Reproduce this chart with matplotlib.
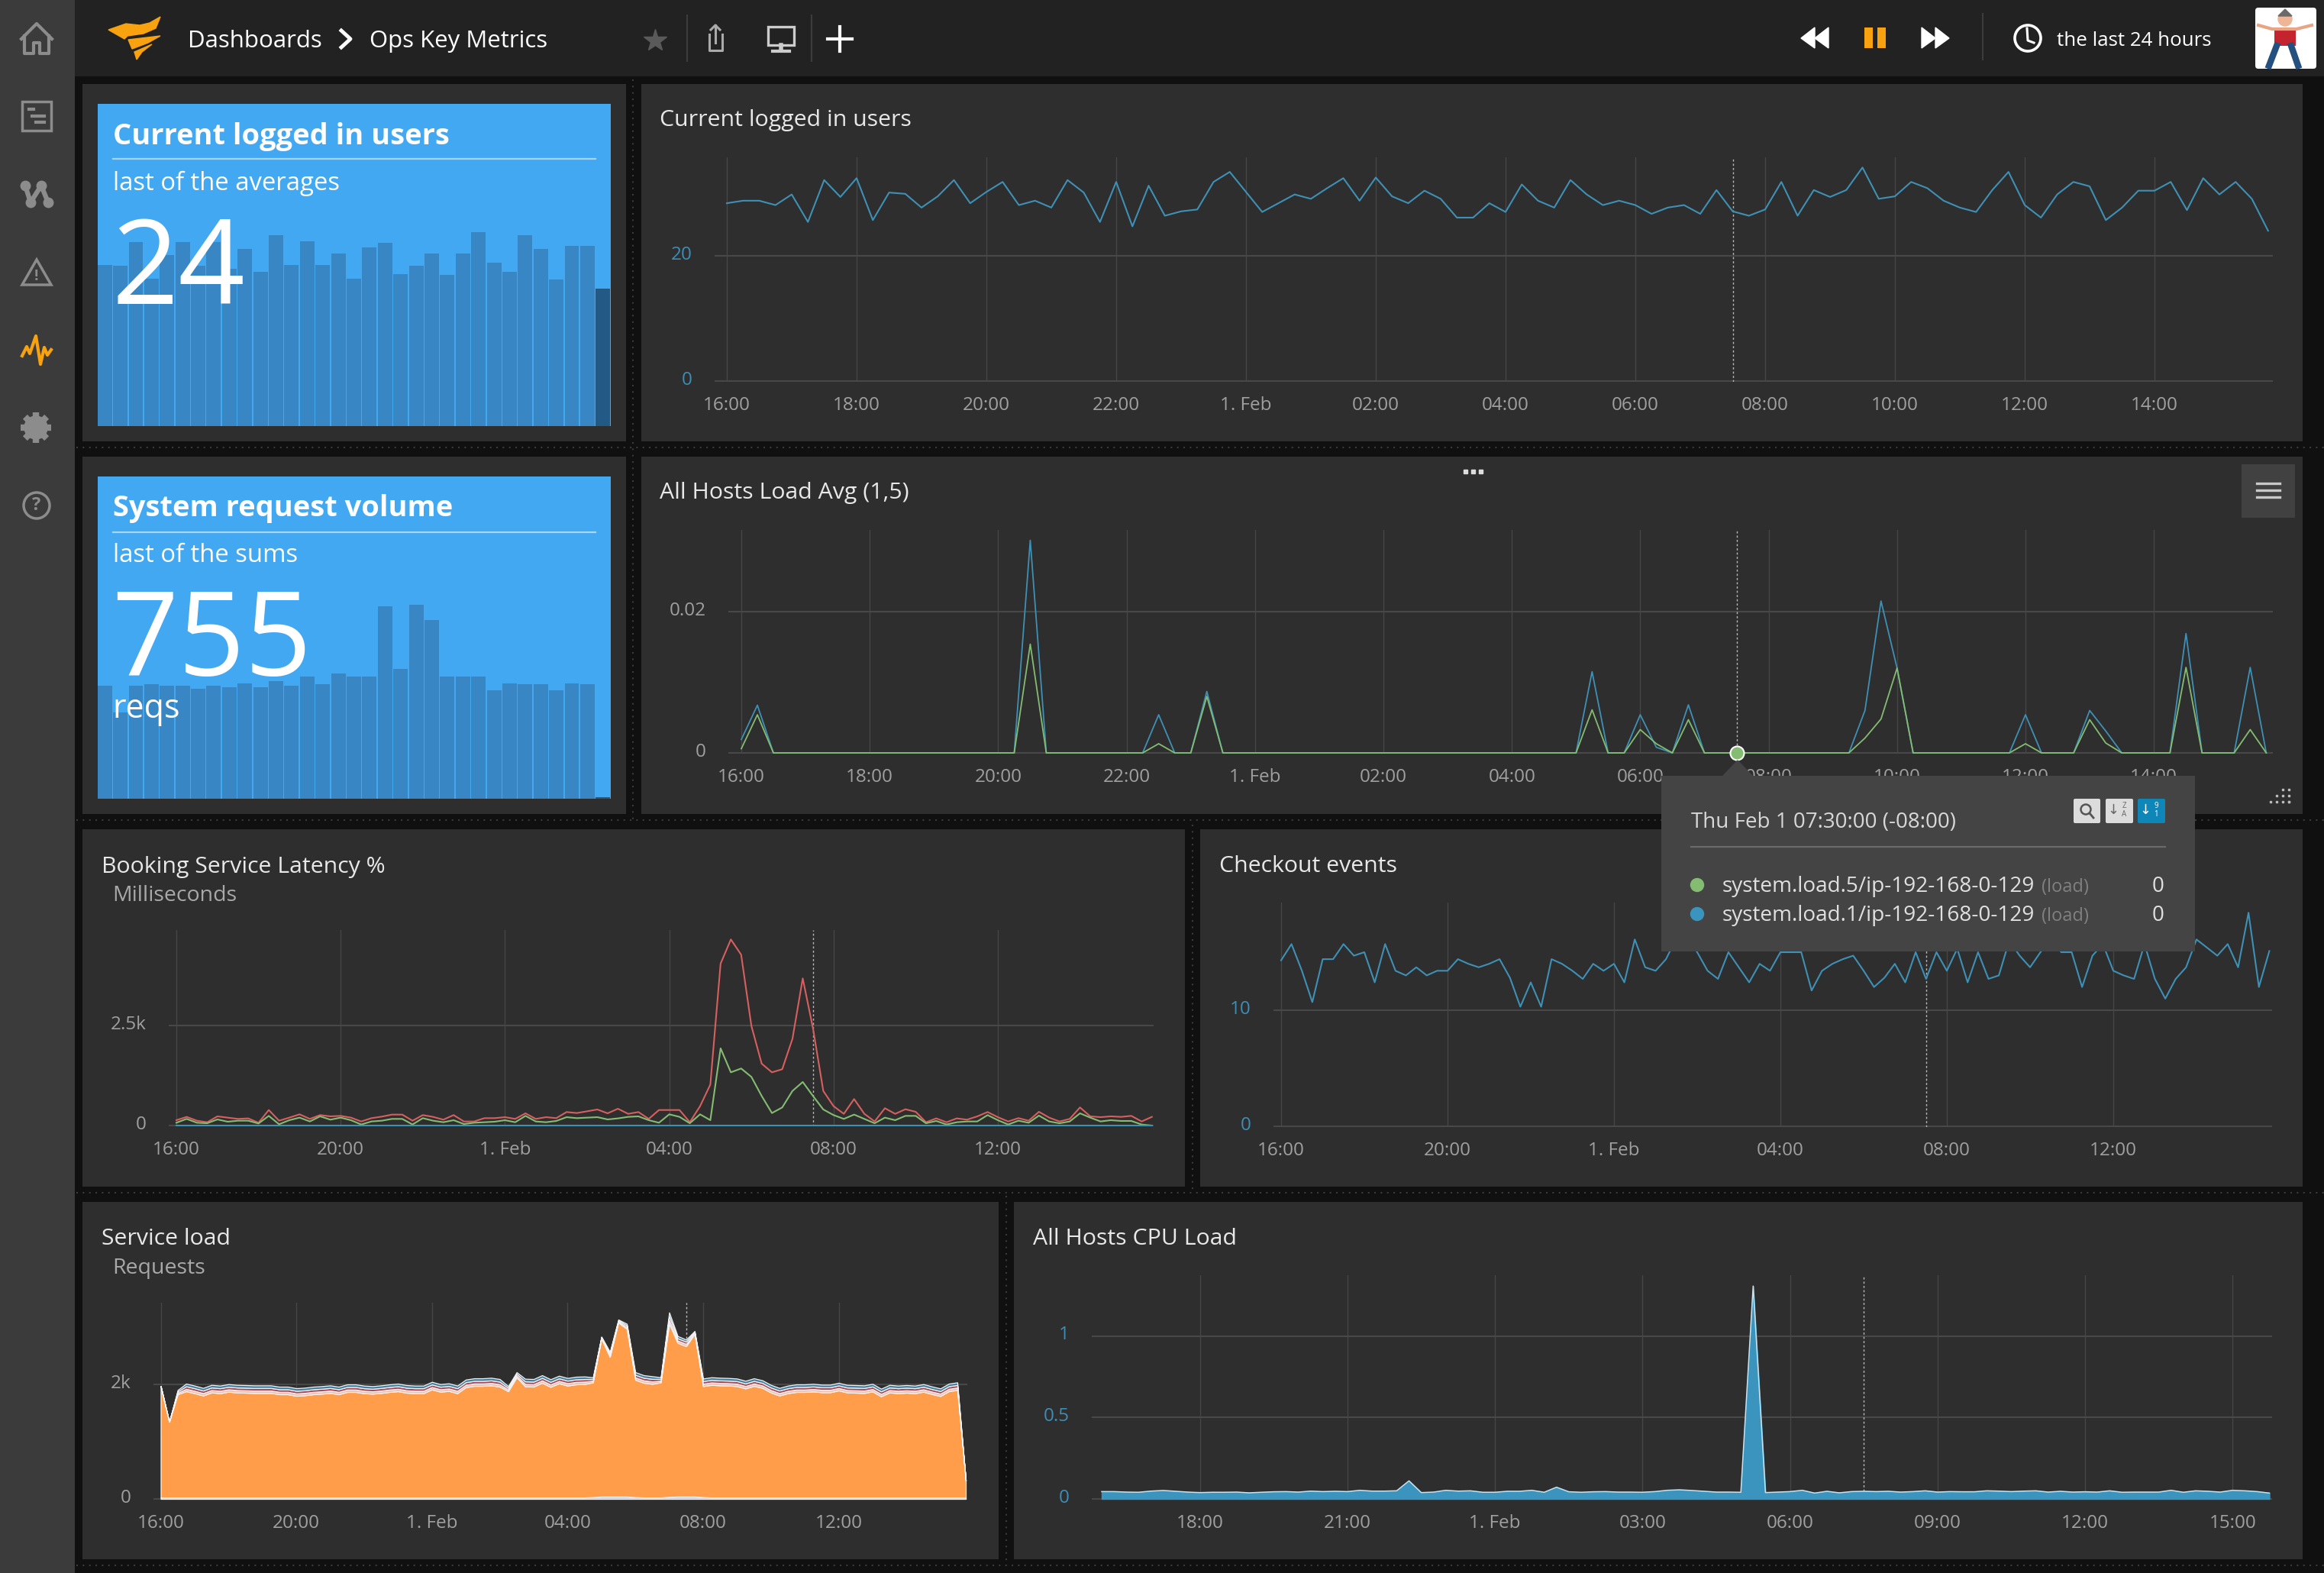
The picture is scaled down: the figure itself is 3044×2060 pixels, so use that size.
import numpy as np
import matplotlib
matplotlib.use("Agg")
import matplotlib.pyplot as plt
from matplotlib.patches import Rectangle, Polygon, Circle, FancyBboxPatch
from matplotlib.transforms import ScaledTranslation

plt.rcParams['font.family'] = ['Open Sans', 'DejaVu Sans']

W, H = 3044, 2060

# every series is sampled each 15 minutes, hours counted from 16:00
hours = np.arange(96) * 0.25

users_bars = [28.2, 28.0, 32.1, 25.7, 29.9, 32.1, 28.0, 32.1, 27.5, 30.9, 27.0, 33.4, 28.2, 32.3, 28.2, 30.2, 25.8,
              31.2, 32.0, 26.6, 28.0, 30.2, 26.4, 30.2, 33.9, 28.5, 27.0, 33.4, 30.9, 25.6, 31.5, 31.5, 24]
reqs_bars = [55700, 42500, 56000, 56600, 56000, 56000, 54500, 56000, 55100, 57000, 55100, 58100, 56000, 60400, 56600,
             61900, 60400, 60400, 95100, 64200, 95900, 88300, 60400, 60400, 60400, 53600, 57000, 56600, 56600, 53600,
             57000, 56600, 755]

users_line = [28.4, 28.8, 28.8, 28.1, 29.8, 25.4, 32.1, 29.4, 32.4, 25.7, 30.1, 29.9, 27.7, 29.5, 32.1, 28.4,
              30.2, 31.8, 28.1, 28.8, 27.7, 32.1, 30.1, 25.4, 31.8, 24.7, 31.2, 26.4, 27.1, 27.4, 31.8, 33.4,
              30.2, 27.0, 28.4, 29.8, 29.1, 30.8, 32.4, 28.8, 32.5, 29.5, 28.4, 30.4, 29.1, 26.1, 26.1, 28.4,
              27.0, 31.4, 28.8, 27.7, 32.1, 29.8, 28.1, 28.8, 28.1, 26.7, 27.7, 28.1, 26.7, 30.5, 27.1, 26.4,
              27.4, 31.8, 26.4, 30.5, 29.4, 30.5, 34.1, 29.1, 29.5, 31.8, 30.8, 28.8, 27.7, 27.0, 30.5, 33.4,
              28.1, 26.1, 29.8, 31.8, 31.1, 25.7, 27.7, 30.4, 30.4, 31.8, 27.3, 32.4, 29.8, 31.8, 29.1, 24.0]

load1 = [.0019, .00675, 0, 0, 0, 0, 0, 0, 0, 0, 0, 0, 0, 0, 0, 0, 0, 0, .0301, 0, 0, 0, 0, 0, 0, 0, .0054, 0, 0, .0087,
         0, 0, 0, 0, 0, 0, 0, 0, 0, 0, 0, 0, 0, 0, 0, 0, 0, 0, 0, 0, 0, 0, 0, .0115, 0, 0, .0054, .0008, 0, .0068,
         0, 0, 0, 0, 0, 0, 0, 0, 0, 0, .0060, .0215, .0120, 0, 0, 0, 0, 0, 0, 0, .0054, 0, 0, 0, .0060, .0031,
         0, 0, 0, 0, .0169, 0, 0, 0, .0121, 0]
load5 = [.0006, .0054, 0, 0, 0, 0, 0, 0, 0, 0, 0, 0, 0, 0, 0, 0, 0, 0, .0154, 0, 0, 0, 0, 0, 0, 0, .0013, 0, 0, .0080,
         0, 0, 0, 0, 0, 0, 0, 0, 0, 0, 0, 0, 0, 0, 0, 0, 0, 0, 0, 0, 0, 0, 0, .0061, 0, 0, .0033, .0013, 0, .0047,
         0, 0, 0, 0, 0, 0, 0, 0, 0, 0, .0021, .0048, .0120, 0, 0, 0, 0, 0, 0, 0, .0013, 0, 0, 0, .0047, .0014,
         0, 0, 0, 0, .0121, 0, 0, 0, .0033, 0]

latency_p99 = [134, 217, 121, 83, 230, 198, 166, 179, 70, 389, 121, 198, 281, 166, 262, 230, 242, 198, 102, 185, 223,
               274, 274, 121, 262, 217, 147, 262, 102, 102, 185, 185, 210, 166, 306, 166, 210, 185, 338, 313, 357, 402,
               306, 421, 293, 338, 166, 389, 389, 389, 83, 485, 1027, 4056, 4662, 4280, 2494, 1550, 1333, 1410, 2175,
               3686, 2430, 867, 485, 293, 663, 293, 102, 434, 293, 408, 344, 83, 179, 83, 179, 147, 230, 338, 210, 102,
               185, 121, 344, 198, 102, 166, 453, 230, 210, 230, 217, 242, 102, 217]
latency_p50 = [70, 166, 70, 57, 153, 96, 121, 121, 51, 242, 32, 134, 198, 102, 230, 147, 198, 134, 26, 102, 121, 166,
               166, 26, 185, 121, 83, 134, 38, 70, 83, 96, 134, 83, 242, 102, 83, 115, 210, 185, 198, 210, 153, 179,
               217, 230, 134, 70, 281, 217, 57, 281, 134, 1933, 1333, 1429, 1218, 740, 313, 453, 867, 1091, 740, 402,
               262, 166, 274, 166, 57, 198, 134, 242, 242, 57, 115, 26, 83, 102, 102, 262, 134, 26, 121, 70, 249, 102,
               57, 102, 306, 198, 102, 134, 115, 115, 26, 0]
latency_min = [6, 6, 6, 6, 6, 6, 6, 6, 6, 6, 6, 6, 6, 6, 6, 6, 6, 6, 6, 6, 6, 6, 6, 6, 6, 6, 6, 6, 6, 6, 6, 6,
               6, 6, 6, 6, 6, 6, 6, 6, 6, 6, 6, 6, 6, 6, 6, 6, 6, 6, 6, 6, 6, 6, 6, 6, 6, 6, 6, 6, 6, 6, 6, 6,
               6, 6, 6, 6, 6, 6, 6, 6, 6, 6, 6, 6, 6, 6, 6, 6, 6, 6, 6, 6, 6, 6, 6, 6, 6, 6, 6, 6, 6, 6, 6, 6]

checkout = [14.3, 15.7, 13.4, 10.7, 14.4, 14.4, 15.7, 14.7, 15.0, 12.4, 15.7, 13.4, 13.0, 13.7, 13.0, 13.4, 13.4, 14.4,
            14.0, 13.7, 14.0, 14.4, 12.8, 10.3, 12.4, 10.3, 14.4, 14.0, 13.4, 12.7, 14.0, 13.4, 14.0, 12.4, 16.1, 13.7,
            13.4, 14.4, 16.2, 16.2, 15.0, 13.4, 12.7, 15.0, 13.7, 12.4, 14.0, 13.4, 15.0, 15.0, 15.0, 11.7, 13.4, 14.0,
            14.4, 14.7, 13.4, 12.0, 12.8, 14.0, 12.4, 15.0, 12.7, 15.0, 13.4, 15.3, 12.4, 15.0, 12.7, 13.0, 16.0, 14.7,
            13.7, 15.0, 16.2, 15.0, 15.0, 12.0, 14.7, 15.7, 13.4, 13.0, 12.7, 15.7, 12.7, 11.0, 12.7, 13.7, 16.1, 15.4,
            14.7, 15.7, 13.7, 18.4, 12.0, 15.1]

service_total = [1969, 1347, 1902, 2013, 1978, 1938, 1991, 1978, 2004, 1991, 1987, 1982, 1982, 1982, 1960, 1960, 1933,
                 1942, 1960, 1969, 1982, 1960, 2000, 2000, 1978, 1969, 1982, 2000, 2013, 1987, 1978, 1978, 2044, 2004,
                 2018, 1978, 2084, 2106, 2106, 2115, 2093, 1969, 2213, 2098, 2093, 2160, 2089, 2151, 2111, 2133, 2138,
                 2124, 2835, 2569, 3133, 3058, 2213, 2160, 2142, 2124, 3257, 2844, 2782, 2933, 2102, 2124, 2115, 2111,
                 2102, 2062, 2106, 2071, 1991, 1938, 1978, 2000, 2000, 2009, 1995, 1995, 2027, 1991, 1987, 1982, 2009,
                 1924, 1991, 1978, 1987, 1978, 2004, 1964, 1929, 2013, 2035, 324]
service_a = [0, 0, 25, 42, 42, 42, 42, 42, 42, 42, 42, 42, 42, 42, 42, 42, 42, 42, 42, 42, 42, 42, 42, 42, 42, 42, 42,
             42, 42, 42, 42, 42, 42, 42, 42, 42, 42, 42, 42, 42, 42, 30, 30, 42, 42, 42, 42, 42, 42, 42, 42, 30, 12,
             30, 18, 30, 42, 42, 42, 30, 65, 40, 40, 18, 42, 42, 42, 42, 42, 42, 42, 42, 42, 42, 42, 42, 42, 42, 42,
             42, 42, 42, 42, 42, 42, 42, 42, 42, 42, 42, 42, 42, 42, 42, 42, 0]
service_b = [0, 0, 25, 45, 45, 45, 45, 45, 45, 45, 45, 45, 45, 45, 45, 45, 45, 45, 45, 45, 45, 45, 45, 45, 45, 45, 45,
             45, 45, 45, 45, 45, 45, 45, 45, 45, 45, 45, 45, 45, 45, 30, 30, 45, 45, 45, 45, 45, 45, 45, 45, 30, 12,
             30, 18, 30, 45, 45, 45, 30, 70, 40, 40, 18, 45, 45, 45, 45, 45, 45, 45, 45, 45, 45, 45, 45, 45, 45, 45,
             45, 45, 45, 45, 45, 45, 45, 45, 45, 45, 45, 45, 45, 45, 45, 45, 0]
service_c = [0, 0, 25, 46, 46, 46, 46, 46, 46, 46, 46, 46, 46, 46, 46, 46, 46, 46, 46, 46, 46, 46, 46, 46, 46, 46, 46,
             46, 46, 46, 46, 46, 46, 46, 46, 46, 46, 46, 46, 46, 46, 30, 30, 46, 46, 46, 46, 46, 46, 46, 46, 30, 11,
             29, 17, 29, 46, 46, 46, 30, 65, 40, 35, 17, 46, 46, 46, 46, 46, 46, 46, 46, 46, 46, 46, 46, 46, 46, 46,
             46, 46, 46, 46, 46, 46, 46, 46, 46, 46, 46, 46, 46, 46, 46, 46, 0]
service_low = [25, 25, 25, 25, 25, 25, 25, 25, 25, 25, 25, 25, 25, 25, 25, 25, 25, 25, 25, 25, 25, 25, 25, 25, 25, 25,
               25, 25, 25, 25, 25, 25, 25, 25, 25, 25, 25, 25, 25, 25, 25, 25, 25, 25, 25, 25, 25, 25, 25, 25, 25, 30,
               40, 40, 40, 40, 30, 25, 25, 25, 35, 40, 40, 40, 30, 25, 25, 25, 25, 25, 25, 25, 25, 25, 25, 25, 25, 25,
               25, 25, 25, 25, 25, 25, 25, 25, 25, 25, 25, 25, 25, 25, 25, 25, 25, 25]

cpu_load = [.045, .045, .042, .041, .048, .052, .047, .042, .039, .041, .041, .042, .0375, .041, .044, .045, .042,
            .048, .045, .047, .045, .053, .048, .048, .05, .111, .039, .042, .053, .048, .05, .041, .041, .047, .047,
            .053, .041, .072, .044, .041, .044, .045, .042, .042, .041, .045, .053, .056, .052, .047, .042, .042, .041,
            1.306, .039, .042, .045, .053, .036, .047, .0375, .045, .047, .045, .047, .042, .045, .05, .042, .045,
            .044, .044, .05, .048, .045, .048, .05, .042, .047, .042, .044, .042, .05, .041, .042, .042, .042, .053,
            .041, .05, .047, .042, .053, .05, .045, .036]

ticks_2h = [0, 2, 4, 6, 8, 10, 12, 14, 16, 18, 20, 22]
labels_2h = ['16:00', '18:00', '20:00', '22:00', '1. Feb', '02:00', '04:00', '06:00', '08:00', '10:00', '12:00', '14:00']
ticks_4h = [0, 4, 8, 12, 16, 20]
labels_4h = ['16:00', '20:00', '1. Feb', '04:00', '08:00', '12:00']
ticks_3h = [2, 5, 8, 11, 14, 17, 20, 23]
labels_3h = ['18:00', '21:00', '1. Feb', '03:00', '06:00', '09:00', '12:00', '15:00']

BG = '#101010'
PANEL = '#2e2e2e'
TOPBAR = '#222222'
SIDEBAR = '#3b3b3b'
STAT = '#43a8f2'
STAT_BAR = '#3886c3'
STAT_LAST = '#235a85'
GRID = '#484848'
VGRID = '#464646'
LINE_BLUE = '#3f90b5'
GREEN = '#84bc72'
RED = '#d6605f'
ORANGE = '#ff9d4b'
ORANGE_UI = '#f7a20e'
TICK = '#a0a0a0'
TICK_BLUE = '#3d8db5'
ICON = '#8c8c8c'
HOVER = 15.5

fig = plt.figure(figsize=(W / 100, H / 100), dpi=100, facecolor=BG)


def px_axes(left, top, right, bottom, zorder=1):
    return fig.add_axes([left / W, 1 - bottom / H, (right - left) / W, (bottom - top) / H], zorder=zorder)


ui = px_axes(0, 0, W, H, zorder=0)
ui.set_xlim(0, W)
ui.set_ylim(H, 0)
ui.axis('off')

top = px_axes(0, 0, W, H, zorder=10)
top.set_xlim(0, W)
top.set_ylim(H, 0)
top.axis('off')
top.patch.set_alpha(0)


def box(ax, x0, y0, x1, y1, color, **kw):
    ax.add_patch(Rectangle((x0, y0), x1 - x0, y1 - y0, facecolor=color, edgecolor='none', **kw))


def chart(left, right, ytop, y0, x0, per_hour, per_unit, xticks, xlabels, yticks, ylabels, ycolor=TICK):
    ax = px_axes(left, ytop, right, y0 + 1, zorder=2)
    ax.patch.set_alpha(0)
    ax.set_xlim((left - x0) / per_hour, (right - x0) / per_hour)
    ax.set_ylim(-1 / per_unit, (y0 - ytop) / per_unit)
    for s in ax.spines.values():
        s.set_visible(False)
    ax.set_xticks(xticks)
    ax.set_xticklabels(xlabels, fontsize=17.5, color=TICK)
    ax.set_yticks(yticks)
    ax.set_yticklabels(ylabels, fontsize=17.5, color=ycolor)
    ax.tick_params(axis='both', length=0)
    ax.tick_params(axis='x', pad=14)
    ax.tick_params(axis='y', pad=21)
    nudge = ScaledTranslation(0, 3 / 72, fig.dpi_scale_trans)
    for lab in ax.get_yticklabels():
        lab.set_transform(lab.get_transform() + nudge)
    ax.grid(axis='y', color=GRID, lw=1.5)
    ax.grid(axis='x', color=VGRID, lw=1.0)
    ax.set_axisbelow(True)
    ax.axvline(HOVER, color='#b8b8b8', lw=1.0, ls=(0, (2, 2)), zorder=1.5)
    return ax


def stat_bars(left, ytop, right, bottom, values, ymax):
    ax = px_axes(left, ytop, right, bottom, zorder=2)
    ax.patch.set_alpha(0)
    ax.axis('off')
    ax.set_xlim(-0.5, len(values) - 0.5)
    ax.set_ylim(0, ymax)
    colors = [STAT_BAR] * (len(values) - 1) + [STAT_LAST]
    ax.bar(range(len(values)), values, width=0.93, color=colors)
    return ax


# page background and panels
box(ui, 0, 0, 98, H, SIDEBAR)
box(ui, 98, 0, W, 100, TOPBAR)
panels = [(108, 110, 820, 578), (840, 110, 3016, 578),
          (108, 598, 820, 1066), (840, 598, 3016, 1066),
          (108, 1086, 1552, 1554), (1572, 1086, 3016, 1554),
          (108, 1574, 1308, 2042), (1328, 1574, 3016, 2042)]
for p in panels:
    box(ui, p[0], p[1], p[2], p[3], PANEL)
box(ui, 128, 136, 800, 558, STAT)
box(ui, 128, 624, 800, 1046, STAT)
for y in [586, 1074, 1562, 2050]:
    ui.plot([100, W], [y, y], color='#3a3a3a', lw=1.5, ls=(0, (1, 3)))
ui.plot([829, 829], [104, 1074], color='#3a3a3a', lw=1.5, ls=(0, (1, 3)))
ui.plot([1562, 1562], [1080, 1560], color='#3a3a3a', lw=1.5, ls=(0, (1, 3)))
ui.plot([1318, 1318], [1566, 2050], color='#3a3a3a', lw=1.5, ls=(0, (1, 3)))

# sidebar icons
top.plot([28, 48, 68], [51, 31, 51], color=ICON, lw=3)
top.plot([32, 32, 44, 44, 52, 52, 64, 64], [47, 70, 70, 56, 56, 70, 70, 47], color=ICON, lw=3)
top.add_patch(Rectangle((29, 133), 38, 38, fill=False, edgecolor=ICON, lw=2.5))
top.plot([38, 44], [143, 143], color=ICON, lw=3)
top.plot([42, 58], [152, 152], color=ICON, lw=3)
top.plot([47, 58], [160, 160], color=ICON, lw=3)
top.plot([33, 40, 54, 63], [243, 265, 243, 265], color=ICON, lw=4.5, marker='o', ms=9)
top.add_patch(Polygon([(48, 340), (29, 373), (67, 373)], fill=False, edgecolor=ICON, lw=2.5))
top.text(48, 362, '!', color=ICON, fontsize=14, ha='center', va='center', fontweight='bold')
top.plot([29, 35, 39, 47, 53, 58, 62, 67], [466, 454, 463, 440, 477, 455, 465, 458], color=ORANGE_UI, lw=3)
for a in np.deg2rad([0, 45, 90, 135]):
    top.plot([47 - 20 * np.cos(a), 47 + 20 * np.cos(a)], [560 - 20 * np.sin(a), 560 + 20 * np.sin(a)],
             color=ICON, lw=6, solid_capstyle='butt')
top.add_patch(Circle((47, 560), 15, color=ICON))
top.add_patch(Circle((47, 560), 7, color=SIDEBAR))
top.add_patch(Circle((48, 662), 17, fill=False, edgecolor=ICON, lw=2.5))
top.text(48, 662, '?', color=ICON, fontsize=17, ha='center', va='center', fontweight='bold')

# top bar
top.add_patch(Polygon([(142, 39), (165, 31), (183, 33), (196, 30), (210, 22), (204, 37), (188, 44), (167, 47), (163, 51)],
                      color=ORANGE_UI))
top.add_patch(Polygon([(168, 52), (210, 47), (194, 56), (173, 64)], color=ORANGE_UI))
top.add_patch(Polygon([(176, 68), (199, 58), (186, 68), (179, 78)], color=ORANGE_UI))
top.text(246, 54, 'Dashboards', color='white', fontsize=22.5, va='center')
top.plot([447, 459, 447], [40, 51, 62], color='white', lw=3.5)
top.text(484, 54, 'Ops Key Metrics', color='white', fontsize=22.4, va='center')
top.plot([858], [53], marker='*', color='#5a5a5a', ms=22)
top.plot([900, 900], [20, 80], color='#3c3c3c', lw=1.5)
top.plot([1063, 1063], [20, 80], color='#3c3c3c', lw=1.5)
top.plot([2597, 2597], [18, 78], color='#3c3c3c', lw=1.5)
top.plot([929, 929, 946, 946], [45, 66, 66, 45], color='#aaaaaa', lw=2.2)
top.plot([937, 937], [33, 56], color='#aaaaaa', lw=2.2)
top.plot([931, 937, 943], [39, 33, 39], color='#aaaaaa', lw=2.2)
top.add_patch(Rectangle((1006, 35), 34, 24, fill=False, edgecolor='#cccccc', lw=2.4))
top.plot([1023, 1023], [59, 66], color='#cccccc', lw=4)
top.plot([1012, 1034], [67, 67], color='#cccccc', lw=3)
top.plot([1100, 1100], [35, 67], color='white', lw=3)
top.plot([1084, 1116], [51, 51], color='white', lw=3)
top.add_patch(Polygon([(2377, 36), (2377, 63), (2359, 50)], color='white'))
top.add_patch(Polygon([(2395, 36), (2395, 63), (2377, 50)], color='white'))
box(top, 2442, 36, 2453, 63, ORANGE_UI)
box(top, 2459, 36, 2470, 63, ORANGE_UI)
top.add_patch(Polygon([(2517, 36), (2517, 63), (2535, 50)], color='white'))
top.add_patch(Polygon([(2535, 36), (2535, 63), (2553, 50)], color='white'))
top.add_patch(Circle((2656, 50), 17, fill=False, edgecolor='white', lw=2.6))
top.plot([2655, 2656, 2664], [37, 53, 56], color='white', lw=2.2)
top.text(2694, 54, 'the last 24 hours', color='white', fontsize=18.6, va='center')

# avatar
top.add_patch(FancyBboxPatch((2958, 14), 72, 72, boxstyle='round,pad=4', facecolor='white', edgecolor='none'))
top.plot([2958, 2976, 3008, 3028], [33, 38, 38, 33], color='#e9a583', lw=3)
top.plot([2982, 2972], [60, 86], color='#24507f', lw=6)
top.plot([3001, 3010], [60, 86], color='#24507f', lw=6)
box(top, 2979, 36, 3007, 60, '#c4242e')
top.add_patch(Circle((2993, 25), 9, color='#eeb596'))
top.add_patch(Polygon([(2984, 21), (2993, 12), (3002, 21)], color='#6a6a6a'))

# single stat panels
stat_bars(127, 136, 800, 558, users_bars, 56.3)
stat_bars(127, 624, 800, 1046, reqs_bars, 159300)
for y_title, y_line, y_sub, name, sub in [(179, 208, 240, 'Current logged in users', 'last of the averages'),
                                          (666, 697, 728, 'System request volume', 'last of the sums')]:
    top.text(148, y_title, name, color='white', fontsize=27.4, fontweight='bold', va='center')
    top.plot([148, 780], [y_line, y_line], color='#a8d6f8', lw=1.6)
    top.text(148, y_sub, sub, color='white', fontsize=23.7, va='center')
top.text(146, 358, '24', color='white', fontsize=110, va='center')
top.text(146, 845, '755', color='white', fontsize=110, va='center')
top.text(147, 929, 'reqs', color='white', fontsize=31, va='center')

# Current logged in users
ax = chart(936, 2977, 206, 499, 952, 85.0, 8.2, ticks_2h, labels_2h, [0, 20], ['0', '20'], TICK_BLUE)
ax.plot(hours, users_line, color=LINE_BLUE, lw=1.5)

# All Hosts Load Avg
ax = chart(954, 2977, 694, 986, 971, 84.1, 9250, ticks_2h, labels_2h, [0, 0.02], ['0', '0.02'])
ax.plot(hours, load1, color=LINE_BLUE, lw=1.3)
ax.plot(hours, load5, color=GREEN, lw=1.3)
ax.plot([HOVER], [0], marker='o', ms=13, mfc=GREEN, mec='white', mew=1.5, clip_on=False, zorder=5)

# Booking Service Latency
ax = chart(221, 1511, 1218, 1474, 231, 53.8, 0.05228, ticks_4h, labels_4h, [0, 2500], ['0', '2.5k'])
ax.plot(hours, latency_p99, color=RED, lw=1.5)
ax.plot(hours, latency_p50, color=GREEN, lw=1.5)
ax.plot(hours, latency_min, color=LINE_BLUE, lw=1.5)

# Checkout events
ax = chart(1668, 2976, 1182, 1475, 1678, 54.5, 15.2, ticks_4h, labels_4h, [0, 10], ['0', '10'], TICK_BLUE)
ax.plot(hours, checkout, color=LINE_BLUE, lw=1.5)

# Service load, the orange layer is what is left under the thin bands
ax = chart(201, 1267, 1706, 1963, 210.5, 44.4, 0.075, ticks_4h, labels_4h, [0, 2000], ['0', '2k'])
service_orange = np.array(service_total) - np.array(service_a) - np.array(service_b) - np.array(service_c) - np.array(service_low)
ax.stackplot(hours, service_low, service_orange, service_a, service_b, service_c,
             colors=['#c9cdd6', ORANGE, '#f3bfae', '#a84a5c', '#3f7f9f'], edgecolor='#f2f2f2', lw=0.9, zorder=3)

# All Hosts CPU Load
ax = chart(1430, 2976, 1670, 1963, 1443, 64.4, 213.5, ticks_3h, labels_3h, [0, 0.5, 1], ['0', '0.5', '1'], TICK_BLUE)
ax.fill_between(hours, cpu_load, color='#3a94bd', zorder=3)
ax.plot(hours, cpu_load, color='#c9e2ee', lw=1.1, zorder=3)

# panel titles
for x, y, name in [(864, 158, 'Current logged in users'), (864, 646, 'All Hosts Load Avg (1,5)'),
                   (133, 1135, 'Booking Service Latency %'), (1597, 1134, 'Checkout events'),
                   (133, 1622, 'Service load'), (1353, 1622, 'All Hosts CPU Load')]:
    top.text(x, y, name, color='#e8e8e8', fontsize=21.8, va='center')
top.text(147, 1173, 'Milliseconds', color='#a8a8a8', fontsize=20.5, va='center')
top.text(147, 1661, 'Requests', color='#a8a8a8', fontsize=20.5, va='center')

# load panel widgets
box(top, 2936, 608, 3006, 678, '#414141')
for y in [633, 642, 651]:
    top.plot([2956, 2986], [y, y], color='#c8c8c8', lw=2.4)
top.plot([1919, 1929, 1939], [617, 617, 617], ls='none', marker='s', ms=3.6, color='#dddddd')
dot_x = [2990, 2998, 2998, 2982, 2990, 2998, 2974, 2982, 2990, 2998]
dot_y = [1034, 1034, 1042, 1042, 1042, 1050, 1050, 1050, 1050, 1050]
ui.plot(dot_x, dot_y, ls='none', marker='s', ms=1.8, color='#bbbbbb')

# hover tooltip
box(top, 2176, 1016, 2875, 1246, '#444444')
top.add_patch(Polygon([(2257, 1016), (2295, 1016), (2276, 996)], color='#444444'))
top.text(2215, 1077, 'Thu Feb 1 07:30:00 (-08:00)', color='#d8d8d8', fontsize=20, va='center')
top.plot([2215, 2836], [1109, 1109], color='#6a6a6a', lw=1.6)
for bx0, bx1, col in [(2716, 2751, '#dcdcdc'), (2758, 2794, '#dcdcdc'), (2800, 2836, '#0f86b8')]:
    top.add_patch(FancyBboxPatch((bx0 + 2, 1048), bx1 - bx0 - 4, 28, boxstyle='round,pad=2', facecolor=col, edgecolor='none'))
top.add_patch(Circle((2732, 1060), 6.5, fill=False, edgecolor='#555555', lw=1.8))
top.plot([2737, 2742], [1065, 1071], color='#555555', lw=2)
top.text(2768, 1061, '↓', color='#666666', fontsize=13, ha='center', va='center')
top.text(2782, 1061, 'Z\nA', color='#666666', fontsize=7, ha='center', va='center', linespacing=0.9)
top.text(2810, 1061, '↓', color='white', fontsize=13, ha='center', va='center')
top.text(2824, 1061, '9\n1', color='white', fontsize=7, ha='center', va='center', linespacing=0.9)
for y, col, name in [(1159, GREEN, 'system.load.5/ip-192-168-0-129'), (1197, '#3a94bd', 'system.load.1/ip-192-168-0-129')]:
    top.add_patch(Circle((2223, y), 8.5, color=col))
    top.text(2256, y + 2, name, color='#e0e0e0', fontsize=20.2, va='center')
    top.text(2674, y + 3, '(load)', color='#808080', fontsize=17, va='center')
    top.text(2834, y + 2, '0', color='#e0e0e0', fontsize=20, ha='right', va='center')

fig.savefig('out.png', dpi=100, facecolor=BG)
